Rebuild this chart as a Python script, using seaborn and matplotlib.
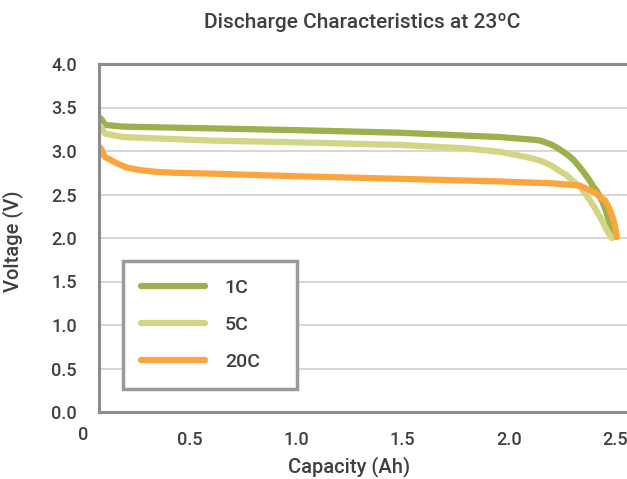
import matplotlib
matplotlib.use("Agg")
import matplotlib.pyplot as plt
import matplotlib.transforms as mtransforms
import seaborn as sns

# Discharge curves (capacity in Ah, voltage in V)
cap_1c = [0.08, 0.088, 0.103, 0.19, 0.6, 1.0, 1.49, 1.96, 2.115, 2.148, 2.195,
          2.226, 2.257, 2.28, 2.304, 2.328, 2.351, 2.375, 2.398, 2.414, 2.43,
          2.445, 2.461, 2.477, 2.492]
volt_1c = [3.38, 3.36, 3.30, 3.28, 3.26, 3.24, 3.21, 3.16, 3.13, 3.12, 3.08,
           3.04, 2.99, 2.95, 2.90, 2.83, 2.76, 2.68, 2.59, 2.54, 2.47,
           2.39, 2.28, 2.15, 2.01]

cap_5c = [0.08, 0.088, 0.103, 0.19, 0.6, 1.0, 1.49, 1.8, 1.96, 2.085, 2.148,
          2.195, 2.24, 2.273, 2.30, 2.335, 2.36, 2.38, 2.406, 2.43, 2.445,
          2.461, 2.484]
volt_5c = [3.29, 3.26, 3.20, 3.16, 3.12, 3.10, 3.07, 3.03, 2.99, 2.93, 2.89,
           2.84, 2.77, 2.72, 2.66, 2.59, 2.51, 2.44, 2.34, 2.24, 2.17,
           2.09, 2.00]

cap_20c = [0.08, 0.088, 0.095, 0.103, 0.127, 0.158, 0.205, 0.268, 0.346,
           0.424, 0.6, 1.0, 1.49, 1.96, 2.195, 2.304, 2.336, 2.38, 2.406,
           2.43, 2.453, 2.469, 2.481, 2.492, 2.502, 2.508]
volt_20c = [3.04, 3.01, 2.97, 2.93, 2.90, 2.86, 2.81, 2.78, 2.76,
            2.75, 2.74, 2.71, 2.68, 2.65, 2.63, 2.61, 2.60, 2.55, 2.52,
            2.47, 2.43, 2.36, 2.29, 2.21, 2.11, 2.01]

series_labels = ["1C", "5C", "20C"]
series_colors = ["#9cb04b", "#d3d585", "#fca53e"]
x_ticks = [0.5, 1.0, 1.5, 2.0, 2.5]
y_ticks = [0.0, 0.5, 1.0, 1.5, 2.0, 2.5, 3.0, 3.5, 4.0]

sns.set_style("white")
plt.rcParams["font.family"] = ["Roboto", "DejaVu Sans"]
plt.rcParams["font.weight"] = "medium"

text_color = "#3f3f3f"
fig = plt.figure(figsize=(6.27, 4.79), dpi=100)
ax = fig.add_axes([99 / 627, 1 - 412 / 479, 528 / 627, 348 / 479])

curves = [(cap_1c, volt_1c), (cap_5c, volt_5c), (cap_20c, volt_20c)]
for (cap, volt), lab, col in zip(curves, series_labels, series_colors):
    sns.lineplot(x=cap, y=volt, ax=ax, color=col, linewidth=4.5, label=lab,
                 sort=False, solid_capstyle="round", solid_joinstyle="round")

ax.set_xlim(0.075, 2.556)
ax.set_ylim(0, 4.0)
ax.set_xticks(x_ticks)
ax.set_xticklabels([f"{t:.1f}" for t in x_ticks])
ax.set_yticks(y_ticks)
ax.set_yticklabels([f"{t:.1f}" for t in y_ticks])
ax.tick_params(axis="both", length=0, labelsize=13, labelcolor=text_color)
ax.tick_params(axis="y", pad=16)
ax.tick_params(axis="x", pad=14)

# the "0" label sits left of the plot frame
trans = mtransforms.blended_transform_factory(ax.transData, ax.transAxes)
ax.text(0, -0.04, "0", transform=trans, ha="center", va="top",
        fontsize=13, color=text_color, clip_on=False)

ax.grid(axis="y", color="#d0d0d0", linewidth=1.2)
ax.grid(axis="x", visible=False)
for side in ["left", "top", "bottom"]:
    ax.spines[side].set_color("#8c8c8c")
    ax.spines[side].set_linewidth(2.2)
ax.spines["right"].set_visible(False)

ax.set_xlabel("Capacity (Ah)", fontsize=14.5, color=text_color, fontweight="medium")
ax.set_ylabel("Voltage (V)", fontsize=14.5, color=text_color, fontweight="medium")
ax.xaxis.set_label_coords((349 - 99) / 528, -0.128)
ax.yaxis.set_label_coords(-0.143, 0.49)

fig.text(362 / 627, 1 - 22 / 479, "Discharge Characteristics at 23\u00baC",
         ha="center", va="center", fontsize=15, color=text_color)

leg = ax.legend(loc="lower left", bbox_to_anchor=(0.045, 0.066, 0.33, 0.374),
                mode="expand", fontsize=14, frameon=True, fancybox=False,
                borderpad=0.95, labelspacing=0.96, handlelength=3.3,
                handletextpad=1.0, borderaxespad=0)
leg.get_frame().set_edgecolor("#9a9a9a")
leg.get_frame().set_linewidth(2.5)
leg.get_frame().set_alpha(1)
for t in leg.get_texts():
    t.set_color(text_color)

fig.savefig("out.png", dpi=100)
